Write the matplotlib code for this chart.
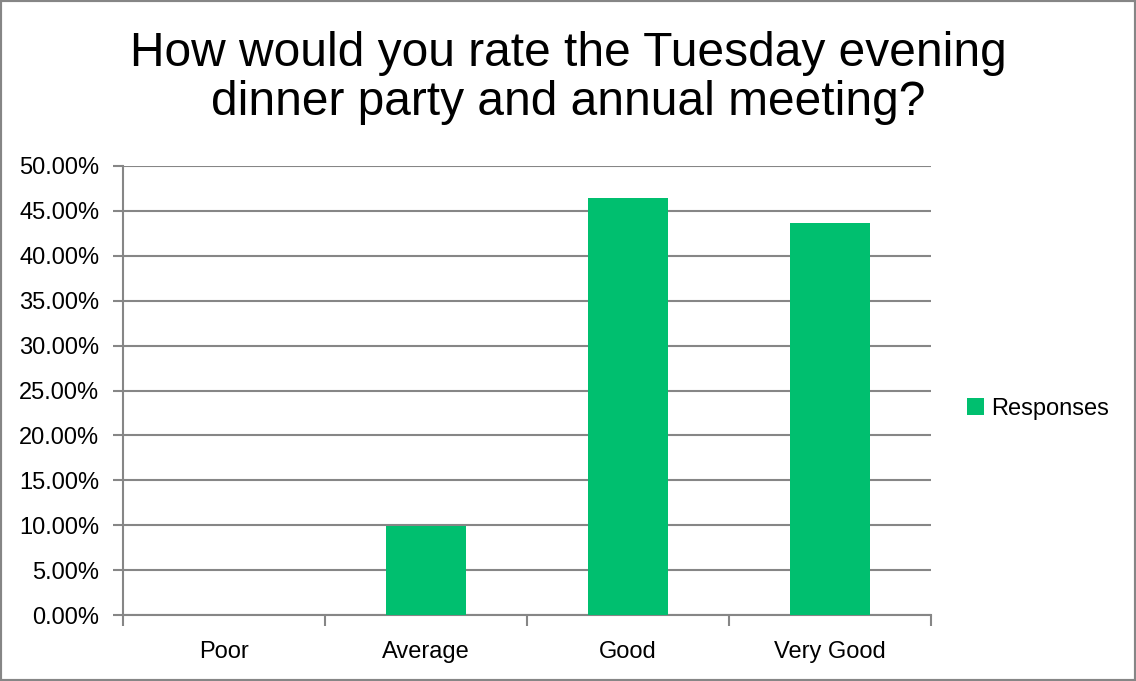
import matplotlib
matplotlib.use("Agg")
import matplotlib.pyplot as plt
from matplotlib.ticker import FuncFormatter, FixedLocator
from matplotlib.patches import Rectangle

categories = ["Poor", "Average", "Good", "Very Good"]
responses = [0.0, 9.86, 46.48, 43.66]
series_name = "Responses"
title = "How would you rate the Tuesday evening\ndinner party and annual meeting?"

bar_color = "#00BF6F"
grid_color = "#868686"
narrow = ["Liberation Sans Narrow", "Liberation Sans", "DejaVu Sans"]

plt.rcParams["font.family"] = narrow

fig = plt.figure(figsize=(11.36, 6.81), dpi=100)
ax = fig.add_axes([123 / 1136, 1 - 615 / 681, (931 - 123) / 1136, (615 - 166) / 681])

x = list(range(len(categories)))
ax.bar(x, responses, width=0.4, color=bar_color, zorder=3, label=series_name)

ax.set_xlim(-0.5, len(categories) - 0.5)
ax.set_ylim(0, 50)
ax.set_yticks([i * 5 for i in range(11)])
ax.yaxis.set_major_formatter(FuncFormatter(lambda v, p: f"{v:.2f}%"))
ax.yaxis.grid(True, color=grid_color, linewidth=1.5, zorder=0)

ax.set_xticks(x)
ax.set_xticklabels(categories)
ax.xaxis.set_minor_locator(FixedLocator([i - 0.5 for i in range(len(categories) + 1)]))
ax.tick_params(axis="x", which="major", length=0, pad=19, labelsize=17)
ax.tick_params(axis="x", which="minor", length=8, width=1.5, color=grid_color)
ax.tick_params(axis="y", length=7, width=1.5, color=grid_color, labelsize=17, pad=10)

for s in ["top", "right"]:
    ax.spines[s].set_visible(False)
for s in ["left", "bottom"]:
    ax.spines[s].set_color(grid_color)
    ax.spines[s].set_linewidth(1.5)

fig.text(568 / 1136, 1 - 78 / 681, title, ha="center", va="center",
         fontsize=34.5, family=["Liberation Sans", "DejaVu Sans"], linespacing=1.12)

leg = fig.legend(loc="center left", bbox_to_anchor=(946 / 1136, 1 - 409 / 681),
                 frameon=False, fontsize=17, handlelength=0.7, handleheight=0.7,
                 handletextpad=0.3)

fig.patches.append(Rectangle((0, 0), 1, 1, transform=fig.transFigure, fill=False,
                             edgecolor=grid_color, linewidth=3))

fig.savefig("out.png", dpi=100)
